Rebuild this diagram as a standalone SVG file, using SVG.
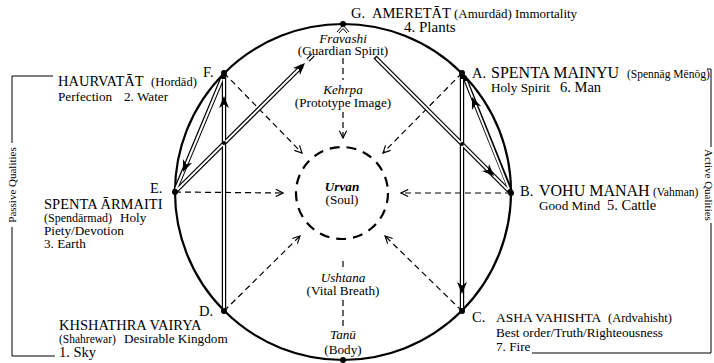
<svg xmlns="http://www.w3.org/2000/svg" xmlns:xlink="http://www.w3.org/1999/xlink" width="714" height="363" viewBox="0 0 714 363">
<style>
.t{font-family:"Liberation Serif","Times New Roman",serif;fill:#000}
.cap{font-size:14.5px}
.capl{font-size:16px}
.par{font-size:11.5px}
.b{font-size:13.2px}
.it{font-style:italic}
.c{text-anchor:middle}
.dash{fill:none;stroke:#000;stroke-width:1.2;stroke-dasharray:6 4}
.dblk{fill:none;stroke:#000;stroke-width:4.4}
.dblw{fill:none;stroke:#fff;stroke-width:2}
.thin{fill:none;stroke:#000;stroke-width:1}
.dot{fill:#000}
</style>
<defs>
<marker id="oa" viewBox="0 0 10 10" refX="9" refY="5" markerWidth="9" markerHeight="9" markerUnits="userSpaceOnUse" orient="auto">
<path d="M1,1 L9,5 L1,9" fill="none" stroke="#000" stroke-width="1.3" stroke-dasharray="none"/>
</marker>
<path id="ah" d="M0,0 L-12,-5 L-8.5,0 L-12,5 Z" fill="#000"/>
</defs>

<g id="frame">
<path class="thin" d="M53,76 L12,76 L12,143 M12,227 L12,356 L55,356"/>
<text class="t" font-size="11" text-anchor="middle" transform="translate(16,185) rotate(-90)">Passive Qualities</text>
<path class="thin" d="M707,69 L711,69 L711,147 M711,223 L711,353 L532,353"/>
<text class="t" font-size="11" text-anchor="middle" transform="translate(705,185) rotate(90)">Active Qualities</text>
</g>

<g id="main-circle">
<circle cx="343" cy="192" r="168" fill="none" stroke="#000" stroke-width="2.2"/>
</g>

<g id="connectors">
<line class="dash" x1="224" y1="73" x2="302" y2="153" marker-end="url(#oa)"/>
<line class="dash" x1="462" y1="73" x2="383" y2="153" marker-end="url(#oa)"/>
<line class="dash" x1="175" y1="192" x2="283" y2="193" marker-end="url(#oa)"/>
<line class="dash" x1="511" y1="193" x2="401" y2="193" marker-end="url(#oa)"/>
<line class="dash" x1="224" y1="311" x2="300" y2="236" marker-end="url(#oa)"/>
<line class="dash" x1="462" y1="311" x2="385" y2="236" marker-end="url(#oa)"/>
<line class="dash" x1="343" y1="58" x2="343" y2="80"/>
<line class="dash" x1="343" y1="112" x2="343" y2="138" marker-end="url(#oa)"/>
<line class="dash" x1="343" y1="261" x2="343" y2="271"/>
<line class="dash" x1="343" y1="300" x2="343" y2="327"/>

<g class="dblk">
<path d="M224,74 L175,191"/>
<path d="M175,192 L302,66"/>
<path d="M308,60 L313,55"/>
<path d="M224,311 L224,75"/>
<path d="M375,57 L510,192"/>
<path d="M511,192 L464,76"/>
<path d="M462,75 L462,311"/>
</g>
<g class="dblw">
<path d="M222,79 L176,189"/>
<path d="M177,190 L300,68"/>
<path d="M308,60 L313,55"/>
<path d="M224,309 L224,79"/>
<path d="M376,58 L508,190"/>
<path d="M509,189 L466,81"/>
<path d="M462,79 L462,309"/>
</g>
<use xlink:href="#ah" transform="translate(183,172) rotate(112.4)"/>
<use xlink:href="#ah" transform="translate(305,63) rotate(-44.8)"/>
<use xlink:href="#ah" transform="translate(224,96) rotate(-90)"/>
<use xlink:href="#ah" transform="translate(494,176) rotate(44.8)"/>
<use xlink:href="#ah" transform="translate(472,97) rotate(-112.4)"/>
<use xlink:href="#ah" transform="translate(462,294) rotate(90)"/>
<circle class="dot" cx="224" cy="143" r="2"/>
<circle class="dot" cx="462" cy="144" r="2"/>
<path class="thin" d="M337,32 L343,25 L349,32 M339,33 L343,28.5 L347,33"/>
</g>

<g id="soul">
<circle cx="342" cy="193" r="46" fill="none" stroke="#000" stroke-width="2.2" stroke-dasharray="10 7"/>
<text class="t b it c" x="342" y="191" font-weight="bold">Urvan</text>
<text class="t b c" x="342" y="204">(Soul)</text>
</g>

<g id="node-g">
<circle class="dot" cx="343" cy="24" r="3"/>
<text class="t" y="18"><tspan class="cap" x="351">G.</tspan><tspan class="cap" x="372">AMERETĀT</tspan><tspan font-size="13" x="454">(Amurdād) Immortality</tspan></text>
<text class="t" font-size="15" x="404" y="32">4. Plants</text>
<text class="t b it c" x="343" y="43">Fravashi</text>
<text class="t b c" x="343" y="55">(Guardian Spirit)</text>
</g>

<g id="kehrpa">
<text class="t b it c" x="343" y="94">Kehrpa</text>
<text class="t b c" x="343" y="107">(Prototype Image)</text>
</g>

<g id="node-a">
<circle class="dot" cx="462" cy="73" r="3"/>
<text class="t" y="78"><tspan class="cap" x="472">A.</tspan><tspan class="capl" x="491">SPENTA MAINYU</tspan><tspan class="par" x="627">(Spennāg Mēnōg)</tspan></text>
<text class="t b" x="491" y="92">Holy Spirit</text>
<text class="t cap" x="560" y="92">6. Man</text>
</g>

<g id="node-b">
<circle class="dot" cx="511" cy="193" r="3"/>
<text class="t" y="196"><tspan class="cap" x="520">B.</tspan><tspan class="capl" x="539">VOHU MANAH</tspan><tspan class="par" x="653">(Vahman)</tspan></text>
<text class="t b" x="539" y="210">Good Mind</text>
<text class="t cap" x="607" y="210">5. Cattle</text>
</g>

<g id="node-c">
<circle class="dot" cx="462" cy="311" r="3"/>
<text class="t" y="322"><tspan class="cap" x="472">C.</tspan><tspan font-size="13.5" x="496">ASHA VAHISHTA</tspan><tspan font-size="12.5" x="608">(Ardvahisht)</tspan></text>
<text class="t b" x="496" y="337">Best order/Truth/Righteousness</text>
<text class="t b" x="496" y="351">7. Fire</text>
</g>

<g id="node-d">
<circle class="dot" cx="224" cy="311" r="3"/>
<text class="t cap" x="199" y="316">D.</text>
<text class="t cap" x="59" y="330">KHSHATHRA VAIRYA</text>
<text class="t" y="343"><tspan class="par" x="59">(Shahrewar)</tspan><tspan class="b" x="124">Desirable Kingdom</tspan></text>
<text class="t cap" x="59" y="357">1. Sky</text>
</g>

<g id="node-e">
<circle class="dot" cx="175" cy="192" r="3"/>
<text class="t cap" x="150" y="193">E.</text>
<text class="t cap" x="44" y="209">SPENTA ĀRMAITI</text>
<text class="t" y="222"><tspan font-size="12" x="44">(Spendārmad)</tspan><tspan class="b" x="120">Holy</tspan></text>
<text class="t b" x="44" y="235">Piety/Devotion</text>
<text class="t b" x="44" y="248">3. Earth</text>
</g>

<g id="node-f">
<circle class="dot" cx="224" cy="73" r="3"/>
<text class="t cap" x="203" y="77">F.</text>
<text class="t" y="86"><tspan class="cap" x="58">HAURVATĀT</tspan><tspan font-size="12.5" x="151">(Hordād)</tspan></text>
<text class="t b" y="101"><tspan x="58">Perfection</tspan><tspan x="124">2. Water</tspan></text>
</g>

<g id="node-vital">
<circle class="dot" cx="343" cy="360" r="3"/>
<text class="t b it c" x="343" y="282">Ushtana</text>
<text class="t b c" x="343" y="295">(Vital Breath)</text>
<text class="t b it c" x="343" y="339">Tanū</text>
<text class="t b c" x="343" y="354">(Body)</text>
</g>
</svg>
